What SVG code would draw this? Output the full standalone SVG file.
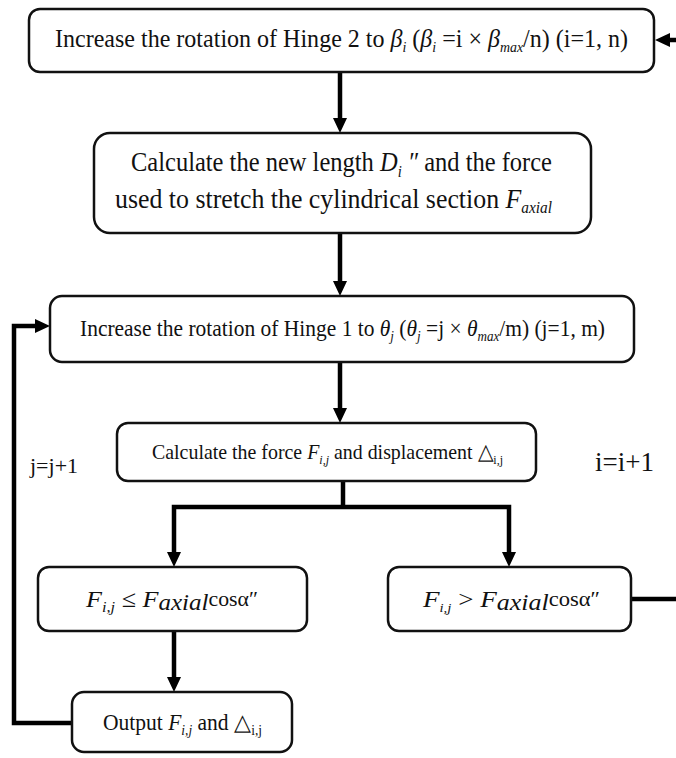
<svg xmlns="http://www.w3.org/2000/svg" width="676" height="758" viewBox="0 0 676 758">
<style>
.box{fill:#fff;stroke:#111;stroke-width:2.5}
.t{font-family:"Liberation Serif","Times New Roman",serif;fill:#111}
.it{font-style:italic}
.c{fill:none;stroke:#000;stroke-width:4.5;stroke-linejoin:miter}
</style>
<defs>
<marker id="ah" viewBox="0 0 15 14" refX="5" refY="7" markerWidth="15" markerHeight="14" markerUnits="userSpaceOnUse" orient="auto" overflow="visible">
<path d="M0,0 L15,7 L0,14 z" fill="#000"/>
</marker>
</defs>
<rect width="676" height="758" fill="#fff"/>
<g id="connectors">
<path class="c" d="M676,40 H665" marker-end="url(#ah)"/>
<path class="c" d="M340,72 V123" marker-end="url(#ah)"/>
<path class="c" d="M340,233 V286" marker-end="url(#ah)"/>
<path class="c" d="M340,362 V413" marker-end="url(#ah)"/>
<path class="c" d="M343,481 V507"/>
<path class="c" d="M343,507 H174 V557" marker-end="url(#ah)"/>
<path class="c" d="M343,507 H509 V557" marker-end="url(#ah)"/>
<path class="c" d="M174,631 V682" marker-end="url(#ah)"/>
<path class="c" d="M72,723 H14 V326 H40" marker-end="url(#ah)"/>
<path class="c" d="M631,599 H676"/>
</g>
<g id="n1">
<rect class="box" x="29" y="9" width="625" height="63" rx="11"/>
<text class="t" x="55" y="47" font-size="26" textLength="573" lengthAdjust="spacingAndGlyphs">Increase the rotation of Hinge 2 to <tspan class="it">β</tspan><tspan class="it" font-size="15" dy="5">i</tspan><tspan dy="-5"> (</tspan><tspan class="it">β</tspan><tspan class="it" font-size="15" dy="5">i</tspan><tspan dy="-5"> =i × </tspan><tspan class="it">β</tspan><tspan class="it" font-size="15" dy="5">max</tspan><tspan dy="-5">/n) (i=1, n)</tspan></text>
</g>
<g id="n2">
<rect class="box" x="94" y="133" width="497" height="100" rx="16"/>
<text class="t" x="131" y="171" font-size="27" textLength="421" lengthAdjust="spacingAndGlyphs">Calculate the new length <tspan class="it">D</tspan><tspan class="it" font-size="16" dy="6">i</tspan><tspan class="it" dy="-6"> ″</tspan> and the force</text>
<text class="t" x="115" y="208" font-size="27" textLength="437" lengthAdjust="spacingAndGlyphs">used to stretch the cylindrical section <tspan class="it">F</tspan><tspan class="it" font-size="16" dy="5">axial</tspan></text>
</g>
<g id="n3">
<rect class="box" x="50" y="296" width="584" height="66" rx="12"/>
<text class="t" x="80" y="336" font-size="23" textLength="525" lengthAdjust="spacingAndGlyphs">Increase the rotation of Hinge 1 to <tspan class="it">θ</tspan><tspan class="it" font-size="14" dy="5">j</tspan><tspan dy="-5"> (</tspan><tspan class="it">θ</tspan><tspan class="it" font-size="14" dy="5">j</tspan><tspan dy="-5"> =j × </tspan><tspan class="it">θ</tspan><tspan class="it" font-size="14" dy="5">max</tspan><tspan dy="-5">/m) (j=1, m)</tspan></text>
</g>
<g id="n4">
<rect class="box" x="117" y="423" width="419" height="58" rx="11"/>
<text class="t" x="152" y="459" font-size="21.5" textLength="351" lengthAdjust="spacingAndGlyphs">Calculate the force <tspan class="it">F</tspan><tspan class="it" font-size="13" dy="5">i,j</tspan><tspan dy="-5"> and displacement △</tspan><tspan font-size="13" dy="5">i,j</tspan></text>
</g>
<g id="n5">
<rect class="box" x="38" y="567" width="269" height="64" rx="11"/>
<text class="t" x="86" y="607" font-size="24" textLength="172" lengthAdjust="spacingAndGlyphs"><tspan class="it">F</tspan><tspan class="it" font-size="15" dy="5">i,j</tspan><tspan dy="-5"> ≤ </tspan><tspan class="it">F</tspan><tspan class="it" font-size="23" dy="3">axial</tspan><tspan font-size="20" dy="-4">cosα″</tspan></text>
</g>
<g id="n6">
<rect class="box" x="388" y="567" width="243" height="64" rx="11"/>
<text class="t" x="423" y="607" font-size="24" textLength="177" lengthAdjust="spacingAndGlyphs"><tspan class="it">F</tspan><tspan class="it" font-size="13" dy="5">i,j</tspan><tspan dy="-5"> &gt; </tspan><tspan class="it">F</tspan><tspan class="it" font-size="23" dy="3">axial</tspan><tspan font-size="20" dy="-4">cosα″</tspan></text>
</g>
<g id="n7">
<rect class="box" x="72" y="692" width="220" height="60" rx="12"/>
<text class="t" x="103" y="730" font-size="22.5" textLength="159" lengthAdjust="spacingAndGlyphs">Output <tspan class="it">F</tspan><tspan class="it" font-size="14" dy="5">i,j</tspan><tspan dy="-5"> and △</tspan><tspan font-size="14" dy="5">i,j</tspan></text>
</g>
<g id="labels">
<text class="t" x="30" y="473" font-size="22">j=j+1</text>
<text class="t" x="595" y="471" font-size="27">i=i+1</text>
</g>
</svg>
